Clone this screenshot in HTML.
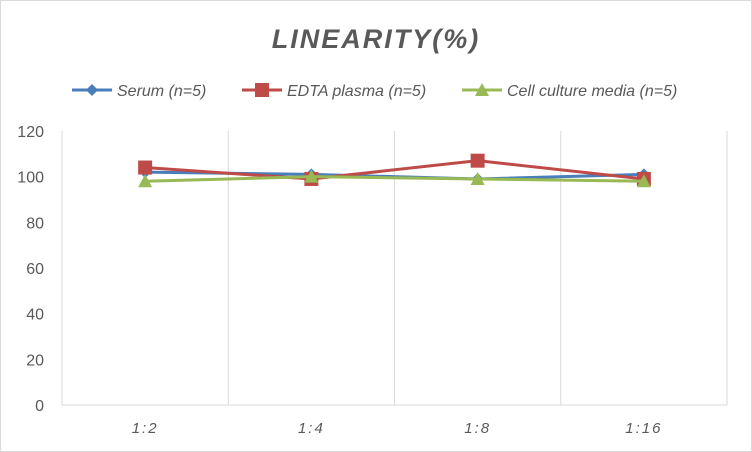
<!DOCTYPE html>
<html><head><meta charset="utf-8"><style>
body{margin:0;background:#fff;font-family:"Liberation Sans",sans-serif}
</style></head><body>
<svg width="752" height="452" xmlns="http://www.w3.org/2000/svg" style="display:block">
<rect x="0.5" y="0.5" width="751" height="451" fill="#fff" stroke="#d9d9d9"/>
<text x="376" y="48" text-anchor="middle" font-size="27" font-weight="bold" font-style="italic" fill="#595959" letter-spacing="2">LINEARITY(%)</text>
<g id="legend"></g>
<g id="grid"></g>
<g id="axes"></g>
<g id="series"></g>
</svg>
<script>
const categories=["1:2","1:4","1:8","1:16"];
const serum=[102,101,99,101];
const edta=[104,99,107,99];
const cell=[98,100,99,98];
const yTicks=[0,20,40,60,80,100,120];
const seriesNames=["Serum (n=5)","EDTA plasma (n=5)","Cell culture media (n=5)"];
const NS="http://www.w3.org/2000/svg";
const L=62,R=727,T=131,B=405;
const x=i=>L+(R-L)/categories.length*(i+0.5);
const y=v=>B-(v/120)*(B-T);
function mk(tag,attrs,parent){const e=document.createElementNS(NS,tag);for(const k in attrs)e.setAttribute(k,attrs[k]);parent.appendChild(e);return e;}
const grid=document.getElementById('grid'),axes=document.getElementById('axes'),ser=document.getElementById('series'),leg=document.getElementById('legend');
for(let i=0;i<=categories.length;i++){const xx=L+(R-L)/categories.length*i;const ln=mk('line',{x1:xx,x2:xx,y1:T,y2:B,stroke:'#d9d9d9'},grid);}
yTicks.forEach(t=>{const tx=mk('text',{x:44,y:y(t)+6,'text-anchor':'end','font-size':16,fill:'#595959'},axes);tx.textContent=t;});
const ax=mk('line',{x1:L,x2:R,y1:B,y2:B,stroke:'#d9d9d9'},axes);
categories.forEach((c,i)=>{const tx=mk('text',{x:x(i),y:433,'text-anchor':'middle','font-size':15,'font-style':'italic',fill:'#595959','letter-spacing':2},axes);tx.textContent=c;});
const colors=["#4a7ebb","#be4b48","#98b954"];
function marker(type,cx,cy,col,p){let e;
 if(type===0)e=mk('polygon',{points:`${cx},${cy-6} ${cx+6},${cy} ${cx},${cy+6} ${cx-6},${cy}`,fill:col},p);
 else if(type===1)e=mk('rect',{x:cx-7,y:cy-7,width:14,height:14,fill:col},p);
 else e=mk('polygon',{points:`${cx},${cy-7} ${cx+7},${cy+6} ${cx-7},${cy+6}`,fill:col},p);
 }
[serum,edta,cell].forEach((d,s)=>{const g=mk('g',{},ser);
 const pl=mk('polyline',{points:d.map((v,i)=>x(i)+','+y(v)).join(' '),fill:'none',stroke:colors[s],'stroke-width':3},g);
 d.forEach((v,i)=>marker(s,x(i),y(v),colors[s],g));});
const lx=[72,242,462];
seriesNames.forEach((n,s)=>{const g=mk('g',{},leg);
 mk('line',{x1:lx[s],x2:lx[s]+40,y1:90,y2:90,stroke:colors[s],'stroke-width':3},g);marker(s,lx[s]+20,90,colors[s],g);
 const t=mk('text',{x:lx[s]+45,y:96,'font-size':16,'font-style':'italic',fill:'#595959'},g);t.textContent=n;});
</script>
</body></html>
